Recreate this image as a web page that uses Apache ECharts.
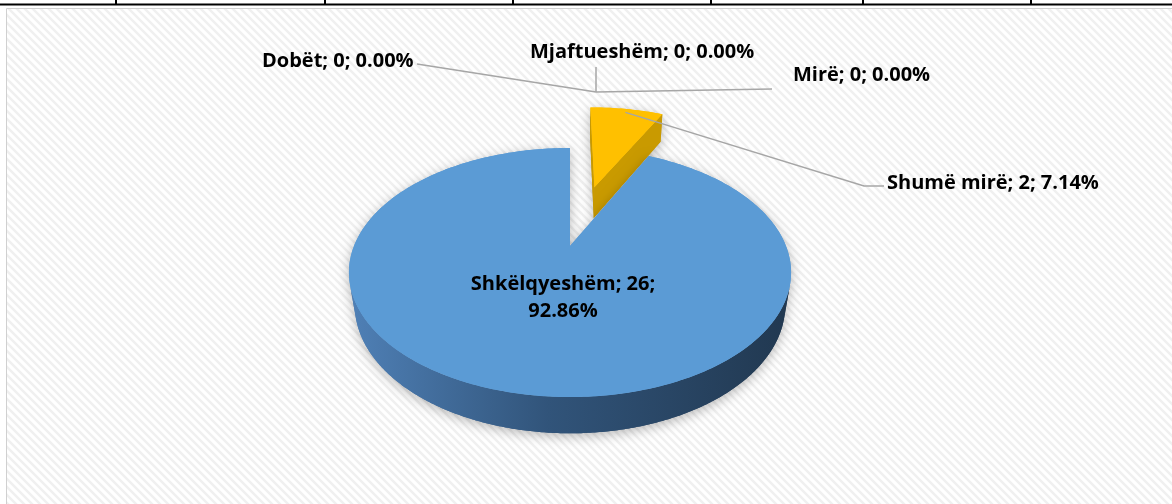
<!DOCTYPE html>
<html>
<head>
<meta charset="utf-8">
<script src="https://cdn.jsdelivr.net/npm/echarts@6/dist/echarts.min.js"></script>
<style>
html,body{margin:0;padding:0;background:#fff;}
#main{width:1172px;height:504px;}
</style>
</head>
<body>
<div id="main"></div>
<script>
// data
var categories = ['Dobët', 'Mjaftueshëm', 'Mirë', 'Shumë mirë', 'Shkëlqyeshëm'];
var counts = [0, 0, 0, 2, 26];

// looks
var topColors = ['#5b9bd5', '#ed7d31', '#a5a5a5', '#ffc000', '#5b9bd5'];
var cutColors = ['#41719c', '#ae5a21', '#787878', '#c99a00', '#41719c'];
var explodeBy = [0, 0, 0, 122, 0];
var frameTicks = [116, 325, 513, 711, 863, 1031];

// 3d view of the pie (pixels / degrees)
var CAM = {ox: 570, oy: 246, dist: 847, tilt: 33.4};
var R = 216, H = 40;
var SIN = Math.sin(CAM.tilt * Math.PI / 180), COS = Math.cos(CAM.tilt * Math.PI / 180);

// label placement
var labelBoxes = [
  {x: 262, y: 61, align: 'left', path: [[417, 64], [596, 92]]},
  {x: 530, y: 52, align: 'left', path: [[596, 67], [596, 92]]},
  {x: 793, y: 75, align: 'left', path: [[772, 89], [596, 92]]},
  {x: 887, y: 183, align: 'left', path: [[884, 186], [864, 186]], anchor: 0.95},
  {x: 563, y: 298, align: 'center'}
];

var total = counts.reduce(function (a, b) { return a + b; }, 0);
var starts = [], ends = [], acc = 0;
for (var i = 0; i < counts.length; i++) {
  starts.push(acc / total * Math.PI * 2);
  acc += counts[i];
  ends.push(acc / total * Math.PI * 2);
}

function proj(u, w, h) {
  var depth = CAM.dist + w * COS - h * SIN;
  var k = CAM.dist / depth;
  return [CAM.ox + u * k, CAM.oy - (w * SIN + h * COS) * k];
}
function rimPt(du, dw, a, h, r) {
  r = r == null ? R : r;
  return proj(du + r * Math.sin(a), dw + r * Math.cos(a), h);
}

var wallFill = new echarts.graphic.LinearGradient(0, 0, 1, 0, [
  {offset: 0, color: '#4f80b6'},
  {offset: 0.45, color: '#31547a'},
  {offset: 1, color: '#213850'}
]);

function renderSlice(params, api) {
  var i = params.dataIndex;
  var v = api.value(0);
  var children = [];
  var pct = (v / total * 100).toFixed(2) + '%';
  var a0 = starts[i], a1 = ends[i], am = (a0 + a1) / 2;
  var du = explodeBy[i] * Math.sin(am), dw = explodeBy[i] * Math.cos(am);
  var DC = CAM.dist * COS;

  if (v > 0) {
    var parts = [];
    // outer wall, only the part facing the camera
    var vis = [];
    var steps = Math.ceil((a1 - a0) / (Math.PI / 360));
    for (var j = 0; j <= steps; j++) {
      var a = a0 + (a1 - a0) * j / steps;
      if (-R - du * Math.sin(a) - (DC + dw) * Math.cos(a) > 0) vis.push(a);
    }
    if (vis.length > 1) {
      var pts = vis.map(function (a) { return rimPt(du, dw, a, 0); });
      var bot = vis.map(function (a) { return rimPt(du, dw, a, -H); }).reverse();
      parts.push({points: pts.concat(bot), fill: i === 4 ? wallFill : cutColors[i]});
    }
    // cut faces
    [[a0, -1], [a1, 1]].forEach(function (f) {
      var a = f[0], s = f[1];
      var nx = s * Math.cos(a), nw = -s * Math.sin(a);
      var cu = du + R / 2 * Math.sin(a), cw = dw + R / 2 * Math.cos(a);
      if (nx * (-cu) + nw * (-DC - cw) > 0) {
        parts.push({points: [proj(du, dw, 0), rimPt(du, dw, a, 0), rimPt(du, dw, a, -H), proj(du, dw, -H)], fill: cutColors[i]});
      }
    });
    // top face
    var n = Math.max(8, Math.ceil((a1 - a0) / (Math.PI / 180)));
    var top = [proj(du, dw, 0)];
    for (var j = 0; j <= n; j++) top.push(rimPt(du, dw, a0 + (a1 - a0) * j / n, 0));
    parts.push({points: top, fill: topColors[i]});

    parts.forEach(function (p) {
      children.push({type: 'polygon', z2: i * 10, shape: {points: p.points},
        style: {fill: p.fill, shadowBlur: 12, shadowOffsetY: 3, shadowColor: 'rgba(0,0,0,0.28)'}});
    });
    parts.forEach(function (p, k) {
      children.push({type: 'polygon', z2: i * 10 + 1 + k, shape: {points: p.points},
        style: {fill: p.fill}});
    });
  }

  var lb = labelBoxes[i];
  if (lb.path) {
    var path = lb.path.slice();
    if (lb.anchor) path.push(rimPt(du, dw, am, 0, R * lb.anchor));
    children.push({type: 'polyline', z2: 90, shape: {points: path},
      style: {stroke: '#a6a6a6', lineWidth: 1.5, fill: null}});
  }
  var txt = categories[i] + '; ' + v + '; ' + pct;
  if (lb.align === 'center') txt = categories[i] + '; ' + v + ';\n' + pct;
  children.push({type: 'text', z2: 100, style: {
    text: txt, x: lb.x, y: lb.y, align: lb.align, verticalAlign: 'middle',
    fill: '#000', font: 'bold 20px "Open Sans"', lineHeight: 27
  }});
  return {type: 'group', children: children};
}

// diagonal stripe pattern of the chart area
var pat = document.createElement('canvas');
pat.width = 8; pat.height = 8;
var g = pat.getContext('2d');
g.fillStyle = '#ffffff'; g.fillRect(0, 0, 8, 8);
g.strokeStyle = '#f0f0f0'; g.lineWidth = 2.5;
g.beginPath();
g.moveTo(-2, -2); g.lineTo(10, 10);
g.moveTo(6, -2); g.lineTo(10, 2);
g.moveTo(-2, 6); g.lineTo(2, 10);
g.stroke();

var frame = [
  {type: 'rect', z: -10, silent: true, shape: {x: 6.5, y: 8.5, width: 1200, height: 600},
    style: {fill: {image: pat, repeat: 'repeat'}, stroke: '#d0d0d0', lineWidth: 1}},
  {type: 'line', z: -5, silent: true, shape: {x1: 0, y1: 4.5, x2: 1172, y2: 4.5},
    style: {stroke: '#000', lineWidth: 2}}
];
frameTicks.forEach(function (x) {
  frame.push({type: 'line', z: -5, silent: true, shape: {x1: x, y1: 0, x2: x, y2: 5},
    style: {stroke: '#000', lineWidth: 2}});
});

var chart = echarts.init(document.getElementById('main'));
chart.setOption({
  animation: false,
  backgroundColor: '#ffffff',
  graphic: frame,
  series: [{
    type: 'custom',
    coordinateSystem: 'none',
    renderItem: renderSlice,
    data: counts.map(function (v) { return [v]; })
  }]
});
</script>
</body>
</html>
